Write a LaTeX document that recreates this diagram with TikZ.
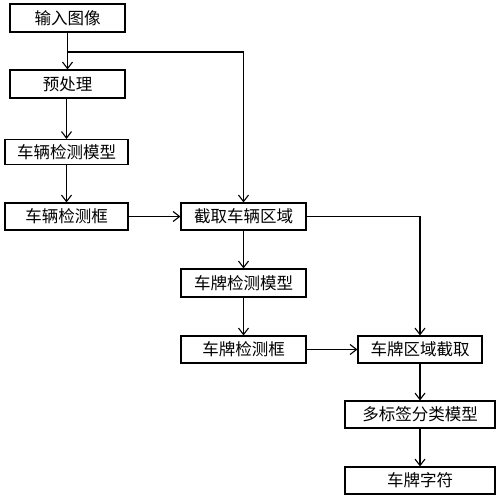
\documentclass[tikz,border=0pt]{standalone}
\usepackage{fontspec}
\newfontfamily\cjk{Noto Sans CJK SC}[Scale=1]
\usetikzlibrary{arrows.meta}
\begin{document}
\begin{tikzpicture}[x=1pt,y=-1pt,
  box/.style={draw, line width=1.1pt, inner sep=0pt, minimum height=27pt, font=\cjk\fontsize{16.5}{16.5}\selectfont},
  arr/.style={line width=1.1pt, -{Straight Barb[length=6.5pt,width=10pt,line width=1.1pt]}},
  ln/.style={line width=1.1pt}]
\useasboundingbox (0,0) rectangle (500,500);
\node[box, minimum width=115pt, minimum height=28pt] (b1) at (67.5,18) {输入图像};
\node[box, minimum width=115pt, minimum height=28pt] (b2) at (67.5,84) {预处理};
\node[box, minimum width=123pt, minimum height=25pt] (b3) at (66.5,152) {车辆检测模型};
\node[box, minimum width=123pt] (b4) at (66.5,216.5) {车辆检测框};
\node[box, minimum width=125pt] (b5) at (243.5,216.5) {截取车辆区域};
\node[box, minimum width=125pt, minimum height=28pt] (b6) at (243.5,283) {车牌检测模型};
\node[box, minimum width=125pt] (b7) at (243.5,349.5) {车牌检测框};
\node[box, minimum width=124pt] (b8) at (420,349.5) {车牌区域截取};
\node[box, minimum width=150pt] (b9) at (420,414.5) {多标签分类模型};
\node[box, minimum width=150pt] (b10) at (420,480.5) {车牌字符};
\coordinate (br) at (67.5,52);
\draw[arr] (b1) -- (b2);
\draw[arr] (br) -| (b5);
\draw[arr] (b2.south -| b3.north) -- (b3);
\draw[arr] (b3) -- (b4);
\draw[arr] (b4) -- (b5);
\draw[arr] (b5) -- (b6);
\draw[arr] (b6) -- (b7);
\draw[arr] (b7) -- (b8);
\draw[arr] (b5) -| (b8);
\draw[arr] (b8) -- (b9);
\draw[arr] (b9) -- (b10);
\end{tikzpicture}
\end{document}
